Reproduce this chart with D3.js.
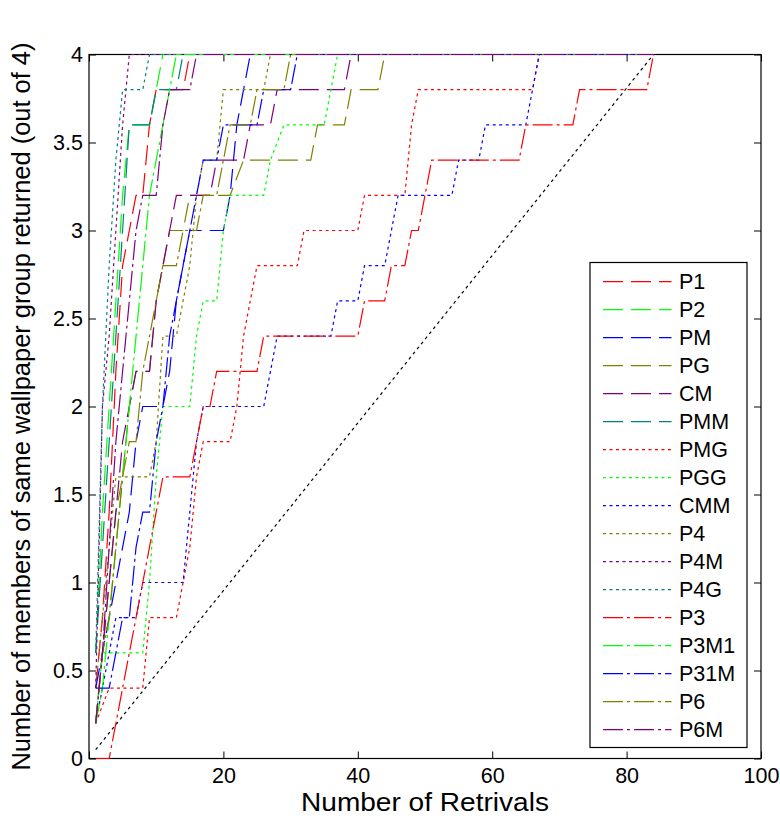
<!DOCTYPE html>
<html>
<head>
<meta charset="utf-8">
<script src="https://cdn.jsdelivr.net/npm/d3@7"></script>
<style>
  body { margin: 0; background: #fff; }
  text { font-family: "Liberation Sans", Arial, Helvetica, sans-serif; }
</style>
</head>
<body>
<svg id="chart" width="780" height="822"></svg>
<script>
// ---------- data ----------
const xTicks = [0, 20, 40, 60, 80, 100];
const yTicks = [0, 0.5, 1, 1.5, 2, 2.5, 3, 3.5, 4];
const xLabel = "Number of Retrivals";
const yLabel = "Number of members of same wallpaper group returned (out of 4)";

const seriesNames = ["P1","P2","PM","PG","CM","PMM","PMG","PGG","CMM","P4","P4M","P4G","P3","P3M1","P31M","P6","P6M"];

// vertices [retrievals, members] of each curve
const P1   = [[1,0.4],[2,0.8],[3,1.4],[4,2.2],[5,2.8],[6,3.0],[7,3.2],[8,3.2],[9,3.6],[10,3.8],[14,3.8],[15,4.0],[84,4.0]];
const P2   = [[1,0.6],[2,1.4],[3,2.0],[4,2.6],[5,3.2],[6,3.6],[9,3.6],[10,3.8],[11,4.0],[84,4.0]];
const PM   = [[1,0.4],[2,0.6],[3,0.8],[4,1.0],[5,1.2],[6,1.4],[7,1.8],[8,2.0],[11,2.0],[12,2.2],[13,2.6],[14,2.8],[15,3.0],[20,3.0],[21,3.2],[22,3.6],[23,3.8],[24,4.0],[84,4.0]];
const PG   = [[1,0.2],[2,0.6],[3,1.0],[4,1.4],[5,1.6],[6,2.0],[7,2.2],[9,2.2],[10,2.6],[11,2.8],[12,3.0],[14,3.0],[15,3.2],[21,3.2],[23,3.4],[33,3.4],[34,3.6],[38,3.6],[39,3.8],[43,3.8],[44,4.0],[84,4.0]];
const CM   = [[1,0.2],[2,0.6],[3,1.0],[4,1.4],[5,1.8],[6,2.0],[7,2.2],[9,2.2],[10,2.6],[11,2.8],[12,3.0],[13,3.2],[18,3.2],[19,3.4],[23,3.4],[24,3.6],[27,3.6],[28,3.8],[38,3.8],[39,4.0],[84,4.0]];
const PMM  = [[1,0.6],[2,1.2],[3,1.8],[4,2.4],[5,3.0],[6,3.6],[9,3.6],[10,3.8],[13,3.8],[14,4.0],[84,4.0]];
const PMG  = [[1,0.2],[3,0.4],[8,0.4],[9,0.8],[13,0.8],[14,1.0],[15,1.2],[16,1.6],[17,1.8],[21,1.8],[22,2.0],[23,2.4],[24,2.6],[25,2.8],[31,2.8],[32,3.0],[40,3.0],[41,3.2],[47,3.2],[48,3.6],[49,3.8],[66,3.8],[67,4.0],[84,4.0]];
const PGG  = [[1,0.2],[2,0.6],[8,0.6],[9,1.0],[10,1.6],[11,2.0],[15,2.0],[16,2.4],[17,2.6],[19,2.6],[20,3.0],[21,3.2],[26,3.2],[27,3.4],[29,3.6],[35,3.6],[36,3.8],[37,4.0],[84,4.0]];
const CMM  = [[1,0.2],[2,0.4],[3,0.6],[4,0.8],[7,0.8],[8,1.0],[14,1.0],[15,1.4],[16,1.8],[17,2.0],[26,2.0],[27,2.2],[28,2.4],[36,2.4],[37,2.6],[40,2.6],[41,2.8],[44,2.8],[45,3.0],[46,3.2],[54,3.2],[55,3.4],[58,3.4],[59,3.6],[65,3.6],[66,3.8],[67,4.0],[84,4.0]];
const P4   = [[1,0.4],[2,0.8],[3,1.2],[4,1.6],[9,1.6],[10,1.8],[11,2.4],[13,2.4],[14,2.6],[15,2.8],[16,3.2],[17,3.4],[19,3.4],[20,3.8],[26,3.8],[27,4.0],[84,4.0]];
const P4M  = [[1,0.4],[2,2.0],[3,2.4],[4,3.0],[5,3.6],[6,4.0],[84,4.0]];
const P4G  = [[1,0.6],[2,2.0],[3,2.8],[4,3.4],[5,3.8],[8,3.8],[9,4.0],[84,4.0]];
const P3   = [[1,0],[3,0],[5,0.4],[11,1.6],[15,1.6],[17,2.0],[18,2.0],[19,2.2],[25,2.2],[26,2.4],[40,2.4],[41,2.6],[44,2.6],[45,2.8],[47,2.8],[48,3.0],[49,3.0],[50,3.2],[51,3.4],[64,3.4],[65,3.6],[72,3.6],[73,3.8],[83,3.8],[84,4.0]];
const P3M1 = [[1,0.2],[2,0.4],[3,0.8],[4,1.2],[5,1.6],[6,2.0],[7,2.4],[8,2.8],[9,3.2],[10,3.4],[11,3.6],[12,3.8],[13,4.0],[84,4.0]];
const P31M = [[1,0.4],[3,0.4],[4,0.6],[5,0.8],[6,0.8],[7,1.2],[8,1.4],[9,1.4],[10,1.8],[11,2.0],[12,2.4],[13,2.6],[14,2.8],[15,3.0],[16,3.2],[17,3.4],[19,3.4],[20,3.6],[25,3.6],[26,3.8],[30,3.8],[31,4.0],[84,4.0]];
const P6   = [[1,0.2],[2,0.6],[3,0.8],[4,1.2],[5,1.6],[6,1.8],[7,1.8],[8,2.2],[9,2.4],[10,2.6],[11,2.8],[13,2.8],[14,3.0],[16,3.0],[17,3.2],[19,3.2],[20,3.4],[21,3.6],[24,3.6],[25,3.8],[29,3.8],[30,4.0],[84,4.0]];
const P6M  = [[1,0.2],[2,0.6],[3,1.2],[4,1.8],[5,2.2],[6,2.6],[7,3.0],[8,3.2],[10,3.2],[11,3.6],[12,3.8],[15,3.8],[16,4.0],[84,4.0]];

const chanceLine = [[1,0.05],[84,4.0]];

const seriesData = [P1,P2,PM,PG,CM,PMM,PMG,PGG,CMM,P4,P4M,P4G,P3,P3M1,P31M,P6,P6M];

// ---------- styles ----------
const palette = ["#ff0000","#00ff00","#0000ff","#808000","#800080","#008080"];
const dashStyles = { dash: "20,8", dot: "3,3.5", dashdot: "20,4,3,4" };
const seriesStyle = seriesNames.map((n, i) => i < 6 ? "dash" : (i < 12 ? "dot" : "dashdot"));
const seriesColor = seriesNames.map((n, i) => palette[i % 6]);

(function draw() {
  const W = 780, H = 822;
  const mL = 89, mR = 761, mT = 54.5, mB = 758.5;
  const svg = d3.select("#chart");
  svg.append("rect").attr("width", W).attr("height", H).attr("fill", "#fff");

  const x = d3.scaleLinear().domain([0, 100]).range([mL, mR]);
  const y = d3.scaleLinear().domain([0, 4]).range([mB, mT]);

  const tickLen = 7, fs = 21.5;
  const font = '"Liberation Sans", Arial, Helvetica, sans-serif';

  const gx = svg.append("g").attr("transform", `translate(0,${mB})`)
    .call(d3.axisBottom(x).tickValues(xTicks).tickFormat(d => d).tickSizeInner(-tickLen).tickSizeOuter(0).tickPadding(9));
  const gxt = svg.append("g").attr("transform", `translate(0,${mT})`)
    .call(d3.axisTop(x).tickValues(xTicks).tickFormat("").tickSizeInner(-tickLen).tickSizeOuter(0));
  const gy = svg.append("g").attr("transform", `translate(${mL},0)`)
    .call(d3.axisLeft(y).tickValues(yTicks).tickFormat(d => d).tickSizeInner(-tickLen).tickSizeOuter(0).tickPadding(6));
  const gyr = svg.append("g").attr("transform", `translate(${mR},0)`)
    .call(d3.axisRight(y).tickValues(yTicks).tickFormat("").tickSizeInner(-tickLen).tickSizeOuter(0));
  [gx, gxt, gy, gyr].forEach(g => {
    g.select(".domain").remove();
    g.selectAll(".tick line").attr("stroke", "#000").attr("stroke-width", 1);
    g.selectAll("text").attr("fill", "#000").style("font-size", fs + "px").style("font-family", font);
  });

  svg.append("rect").attr("x", mL).attr("y", mT).attr("width", mR - mL).attr("height", mB - mT)
    .attr("fill", "none").attr("stroke", "#000").attr("stroke-width", 1.2);

  svg.append("text").attr("x", (mL + mR) / 2).attr("y", 811).attr("text-anchor", "middle")
    .style("font-size", "26px").style("font-family", font)
    .attr("textLength", 248).attr("lengthAdjust", "spacingAndGlyphs").text(xLabel);
  svg.append("text").attr("transform", `translate(29.5,${(mT + mB) / 2}) rotate(-90)`).attr("text-anchor", "middle")
    .style("font-size", "25.5px").style("font-family", font)
    .attr("textLength", 728).attr("lengthAdjust", "spacingAndGlyphs").text(yLabel);

  const line = d3.line().x(d => x(d[0])).y(d => y(d[1]));
  svg.append("path").datum(chanceLine).attr("d", line).attr("fill", "none")
    .attr("stroke", "#000").attr("stroke-width", 1.2).attr("stroke-dasharray", dashStyles.dot);

  svg.append("g").selectAll("path").data(seriesData).join("path")
    .attr("d", line).attr("fill", "none")
    .attr("stroke", (d, i) => seriesColor[i])
    .attr("stroke-width", 1.2)
    .attr("stroke-dasharray", (d, i) => dashStyles[seriesStyle[i]]);

  const lg = svg.append("g");
  const lgX = 590, lgY = 262.5, lgW = 157, lgH = 485, rowH = 28.0, firstRow = 281.7;
  lg.append("rect").attr("x", lgX).attr("y", lgY).attr("width", lgW).attr("height", lgH)
    .attr("fill", "#fff").attr("stroke", "#000").attr("stroke-width", 1.2);
  seriesNames.forEach((n, i) => {
    const cy = firstRow + i * rowH;
    lg.append("line").attr("x1", 603).attr("x2", 671.5).attr("y1", cy).attr("y2", cy)
      .attr("stroke", seriesColor[i]).attr("stroke-width", 1.2)
      .attr("stroke-dasharray", dashStyles[seriesStyle[i]]);
    lg.append("text").attr("x", 679).attr("y", cy).attr("dy", "0.36em")
      .style("font-size", fs + "px").style("font-family", font).attr("fill", "#000").text(n);
  });
})();
</script>
</body>
</html>
